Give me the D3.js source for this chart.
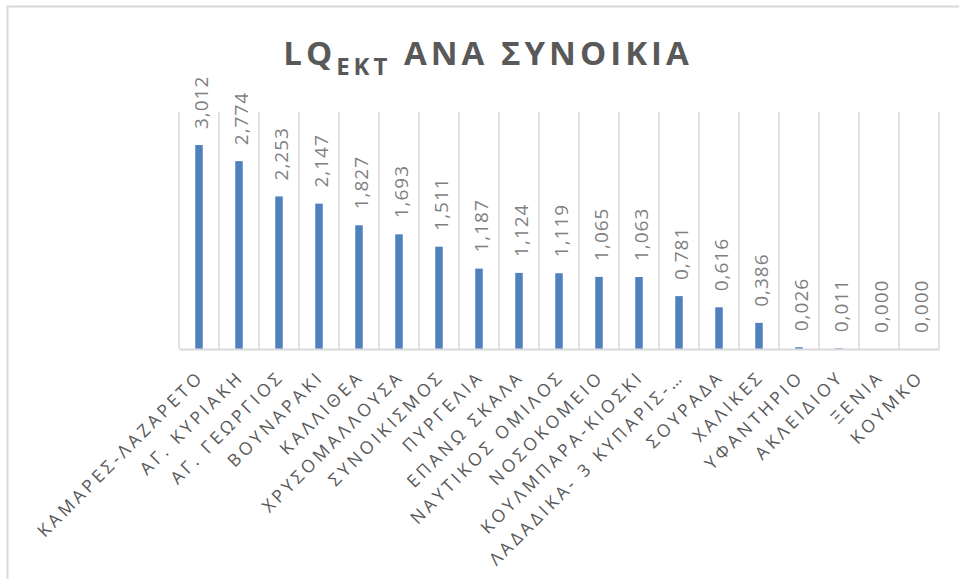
<!DOCTYPE html>
<html>
<head>
<meta charset="utf-8">
<script src="https://cdn.jsdelivr.net/npm/d3@7"></script>
<style>
  html, body { margin: 0; padding: 0; background: #fff; }
  svg { display: block; }
</style>
</head>
<body>
<svg id="chart" width="959" height="579"></svg>
<script>
const categories = ["ΚΑΜΑΡΕΣ-ΛΑΖΑΡΕΤΟ","ΑΓ. ΚΥΡΙΑΚΗ","ΑΓ. ΓΕΩΡΓΙΟΣ","ΒΟΥΝΑΡΑΚΙ","ΚΑΛΛΙΘΕΑ","ΧΡΥΣΟΜΑΛΛΟΥΣΑ","ΣΥΝΟΙΚΙΣΜΟΣ","ΠΥΡΓΕΛΙΑ","ΕΠΑΝΩ ΣΚΑΛΑ","ΝΑΥΤΙΚΟΣ ΟΜΙΛΟΣ","ΝΟΣΟΚΟΜΕΙΟ","ΚΟΥΛΜΠΑΡΑ-ΚΙΟΣΚΙ","ΛΑΔΑΔΙΚΑ- 3 ΚΥΠΑΡΙΣ-…","ΣΟΥΡΑΔΑ","ΧΑΛΙΚΕΣ","ΥΦΑΝΤΗΡΙΟ","ΑΚΛΕΙΔΙΟΥ","ΞΕΝΙΑ","ΚΟΥΜΚΟ"];
const values = [3.012,2.774,2.253,2.147,1.827,1.693,1.511,1.187,1.124,1.119,1.065,1.063,0.781,0.616,0.386,0.026,0.011,0.000,0.000];
const titleMain = "LQ";
const titleSub = "ΕΚΤ";
const titleRest = " ΑΝΑ ΣΥΝΟΙΚΙΑ";
const yDomain = [0, 3.5];

const svg = d3.select("#chart");
const W = 959, H = 579;
const plot = {left: 179, right: 939, top: 112, bottom: 349};
const font = "'Open Sans', 'DejaVu Sans', sans-serif";

// outer chart border (partially clipped at right/bottom)
svg.append("rect")
  .attr("x", 7.5).attr("y", 6.5)
  .attr("width", W + 10).attr("height", H + 10)
  .attr("fill", "#fff").attr("stroke", "#d9d9d9").attr("stroke-width", 2);

const x = d3.scaleBand().domain(categories).range([plot.left, plot.right]).padding(0);
const y = d3.scaleLinear().domain(yDomain).range([plot.bottom, plot.top]);

// vertical category gridlines
const bounds = categories.map(c => x(c)).concat([plot.right]);
svg.append("g").selectAll("line").data(bounds).join("line")
  .attr("x1", d => d).attr("x2", d => d)
  .attr("y1", plot.top).attr("y2", plot.bottom)
  .attr("stroke", "#d9d9d9").attr("stroke-width", 1.5);

// bars
const barW = 7.5;
svg.append("g").selectAll("rect").data(values).join("rect")
  .attr("x", (d, i) => x(categories[i]) + x.bandwidth() / 2 - barW / 2)
  .attr("y", d => y(d))
  .attr("width", barW)
  .attr("height", d => y(0) - y(d))
  .attr("fill", "#4f81bd");

// x axis baseline
const xAxis = d3.axisBottom(x).tickSize(0).tickFormat("");
const gx = svg.append("g").attr("transform", `translate(0,${plot.bottom})`).call(xAxis);
gx.select(".domain").attr("stroke", "#d9d9d9").attr("stroke-width", 2);

// category labels
svg.append("g").selectAll("text").data(categories).join("text")
  .attr("transform", d => `translate(${x(d) + x.bandwidth() / 2 + 6},${plot.bottom + 29}) rotate(-45)`)
  .attr("text-anchor", "end")
  .attr("font-family", font)
  .attr("font-size", 17.5)
  .attr("letter-spacing", "3.5px")
  .attr("fill", "#595959")
  .text(d => d);

// value labels
const fmt = v => d3.format(".3f")(v).replace(".", ",");
svg.append("g").selectAll("text").data(values).join("text")
  .attr("transform", (d, i) => `translate(${x(categories[i]) + x.bandwidth() / 2 + 2},${y(d) - 16}) rotate(-90)`)
  .attr("text-anchor", "start")
  .attr("dy", "0.35em")
  .attr("font-family", font)
  .attr("font-size", 19)
  .attr("letter-spacing", "1px")
  .attr("fill", "#7f7f7f")
  .text(d => fmt(d));

// title
const t = svg.append("text")
  .attr("x", 488).attr("y", 65)
  .attr("text-anchor", "middle")
  .attr("font-family", font)
  .attr("font-weight", "bold")
  .attr("font-size", 33)
  .attr("letter-spacing", "4px")
  .attr("fill", "#595959");
t.append("tspan").text(titleMain);
t.append("tspan").attr("font-size", 24).attr("dy", 10).text(titleSub);
t.append("tspan").attr("dy", -10).text(titleRest);
</script>
</body>
</html>
